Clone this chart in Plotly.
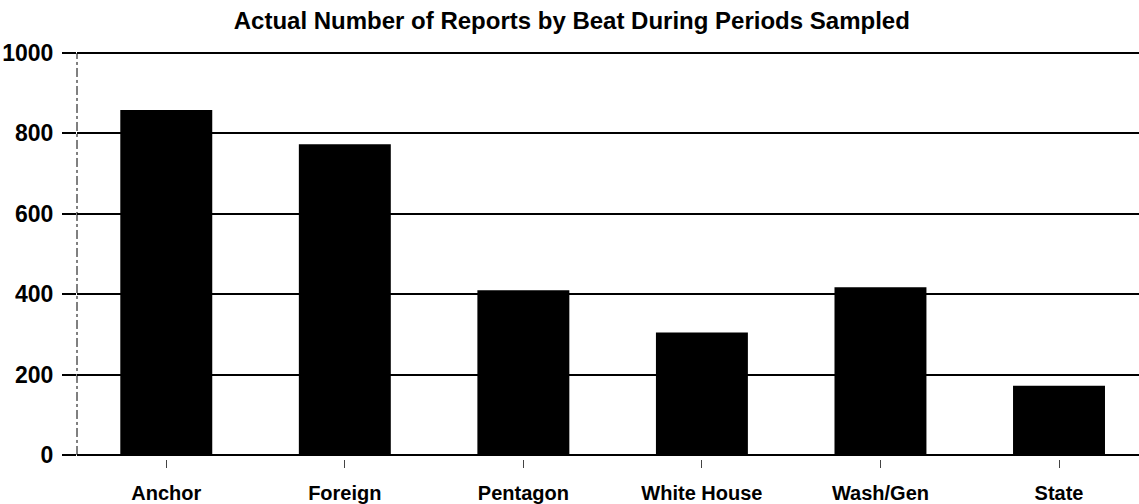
import plotly.graph_objects as go

# Reports per beat
beats = ["Anchor", "Foreign", "Pentagon", "White House", "Wash/Gen", "State"]
reports = [858, 773, 410, 305, 417, 172]
y_ticks = [0, 200, 400, 600, 800, 1000]

FONT = "Liberation Sans, Arial, sans-serif"

fig = go.Figure(
    go.Bar(
        x=beats,
        y=reports,
        marker=dict(color="black", line=dict(width=0)),
        width=0.515,
    )
)

fig.update_layout(
    width=1139,
    height=504,
    margin=dict(l=77, r=0, t=51, b=45),
    paper_bgcolor="white",
    plot_bgcolor="white",
    showlegend=False,
    title=dict(
        text="<b>Actual Number of Reports by Beat During Periods Sampled</b>",
        x=0.502,
        xanchor="center",
        y=0.96,
        yanchor="middle",
        font=dict(family=FONT, size=24, color="black"),
    ),
    font=dict(family=FONT, color="black"),
)

fig.update_xaxes(
    range=[-0.5, 5.448],
    showgrid=False,
    showline=False,
    zeroline=False,
    ticks="outside",
    ticklen=8,
    tickwidth=1,
    tickcolor="#444",
    ticklabelstandoff=8,
    tickfont=dict(family=FONT, size=20, color="black"),
    tickprefix="<b>",
    ticksuffix="</b>",
)

fig.update_yaxes(
    range=[-10, 1005],
    tickvals=y_ticks,
    ticktext=[f"<b>{v}</b>" for v in y_ticks],
    showgrid=True,
    gridcolor="black",
    gridwidth=2,
    zeroline=True,
    zerolinecolor="black",
    zerolinewidth=2,
    showline=False,
    ticks="outside",
    ticklen=14,
    tickwidth=2,
    tickcolor="black",
    ticklabelstandoff=4,
    tickfont=dict(family=FONT, size=23, color="black"),
)

# dash-dot vertical axis line
fig.add_shape(
    type="line",
    xref="paper",
    yref="y",
    x0=0,
    x1=0,
    y0=0,
    y1=1000,
    line=dict(color="black", width=1, dash="dashdot"),
    layer="below",
)

fig.write_html("out.html")
